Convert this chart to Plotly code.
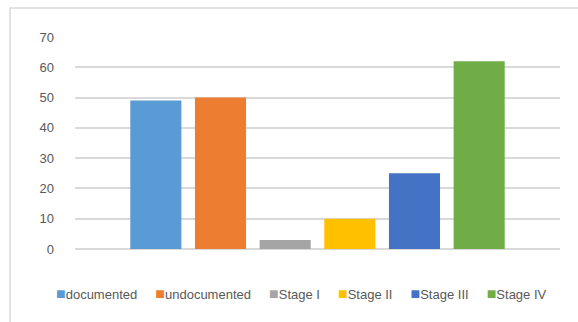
import plotly.graph_objects as go

categories = ["All patients"]
series_names = ["documented", "undocumented", "Stage I", "Stage II", "Stage III", "Stage IV"]
series_values = [49, 50, 3, 10, 25, 62]
series_colors = ["#5B9BD5", "#ED7D31", "#A5A5A5", "#FFC000", "#4472C4", "#70AD47"]
y_ticks = [0, 10, 20, 30, 40, 50, 60, 70]

FONT = "Liberation Sans, Arial, sans-serif"
TEXT_COLOR = "#595959"
GRID = "#D9D9D9"

fig = go.Figure()
for name, val, col in zip(series_names, series_values, series_colors):
    fig.add_trace(go.Bar(x=categories, y=[val], name=name, marker=dict(color=col, line=dict(width=0)),
                         showlegend=False))

# legend built as a single text line with coloured square glyphs
parts = []
for name, col in zip(series_names, series_colors):
    parts.append(f'<span style="color:{col};font-size:16px">■</span>{name}')
legend_text = ("\u00a0" * 5).join(parts)

fig.add_annotation(text=legend_text, xref="paper", yref="paper", x=0.468, y=-0.212,
                   xanchor="center", yanchor="middle", showarrow=False,
                   font=dict(family=FONT, size=13, color=TEXT_COLOR))

# chart-area border (light grey frame)
fig.add_shape(type="rect", xref="paper", yref="paper", x0=-0.134, y0=-0.6, x1=1.3, y1=1.137,
              line=dict(color=GRID, width=1.5), fillcolor="rgba(0,0,0,0)", layer="below")

fig.update_layout(
    width=578, height=322,
    margin=dict(l=75, r=18, t=37, b=73),
    paper_bgcolor="white", plot_bgcolor="white",
    barmode="group", bargap=0.2, bargroupgap=0.21,
    font=dict(family=FONT, size=13, color=TEXT_COLOR),
    xaxis=dict(showticklabels=False, showgrid=False, zeroline=False, showline=False, ticks=""),
    yaxis=dict(range=[0, 70], tickvals=y_ticks, showgrid=True, gridcolor=GRID, gridwidth=1.5,
               zeroline=True, zerolinecolor=GRID, zerolinewidth=1.5, showline=False,
               ticks="", ticklabelstandoff=20,
               tickfont=dict(family=FONT, size=13, color=TEXT_COLOR)),
)

fig.write_html("out.html")
